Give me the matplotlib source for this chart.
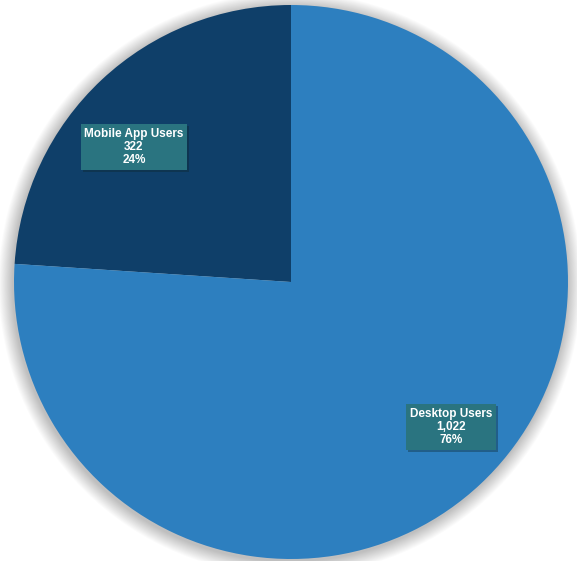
import matplotlib
matplotlib.use("Agg")
import matplotlib.pyplot as plt
import matplotlib.patheffects as pe
from matplotlib.patches import Circle

plt.rcParams["font.family"] = ["Liberation Sans", "DejaVu Sans"]

labels = ["Mobile App Users", "Desktop Users"]
values = [322, 1022]
colors = ["#0f3f69", "#2d7fbf"]

BOX = "#2a7480"

fig = plt.figure(figsize=(5.77, 5.61), dpi=100)
ax = fig.add_axes([0, 0, 1, 1])
fig.patch.set_facecolor("white")

cx, cy, r = 291, 279, 277

# soft shadow round the pie
for i in range(16, 0, -1):
    ax.add_patch(Circle((cx - 1, cy - 2), r + i * 0.9, color="#000000",
                        alpha=0.016, lw=0, zorder=1))

wedges, _ = ax.pie(values, colors=colors, startangle=90, counterclock=True,
                   center=(cx, cy), radius=r, frame=True,
                   wedgeprops=dict(linewidth=0, zorder=2))
ax.set_xlim(0, 577)
ax.set_ylim(0, 561)
ax.set_aspect("auto")
ax.axis("off")

total = sum(values)
label_pos = [(134, 414), (451, 134)]
for lab, v, (x, y) in zip(labels, values, label_pos):
    txt = f"{lab}\n{v:,}\n{v / total:.0%}"
    t = ax.text(x, y, txt, ha="center", va="center", fontsize=8.5,
                fontweight="bold", color="white", linespacing=1.15,
                bbox=dict(boxstyle="square,pad=0.3", fc=BOX, ec="none"),
                zorder=4)
    t.get_bbox_patch().set_path_effects(
        [pe.SimplePatchShadow(offset=(1.5, -1.5), alpha=0.35), pe.Normal()])

fig.savefig("out.png", dpi=100)
